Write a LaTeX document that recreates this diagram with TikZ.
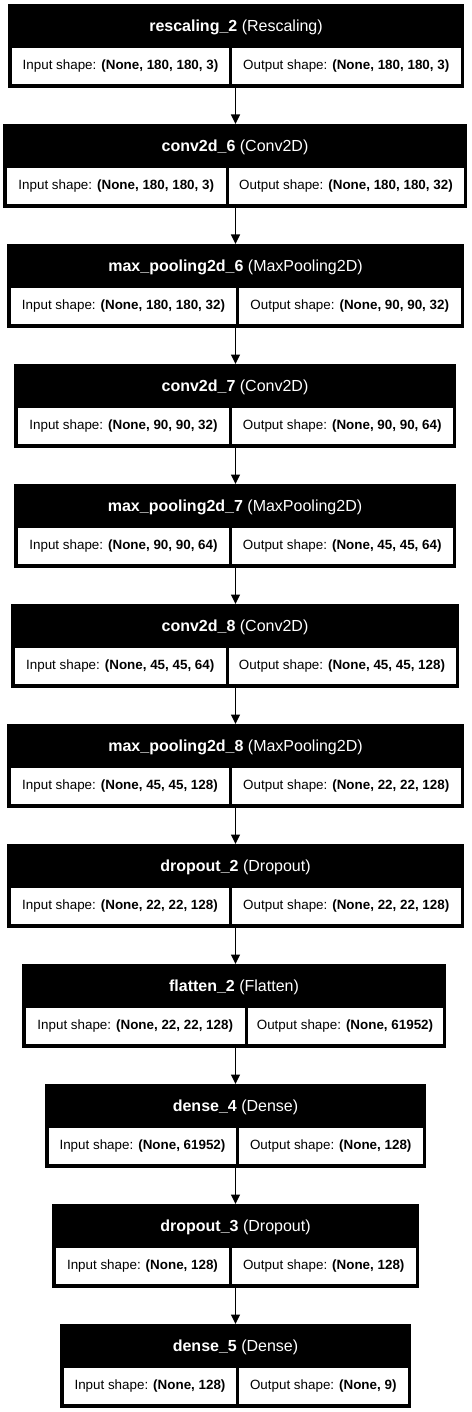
\documentclass[tikz,border=0pt]{standalone}
\usepackage{fontspec}
\setmainfont{Liberation Sans}
\usetikzlibrary{arrows.meta}
\tikzset{
  blk/.style={fill=black, draw=none, minimum height=84pt, inner sep=0pt, outer sep=0pt},
  hdr/.style={text=white, inner sep=0pt, font=\fontsize{16}{18}\selectfont},
  cellbox/.style={fill=white, draw=none, minimum height=36pt, inner sep=0pt, outer sep=0pt, font=\fontsize{13.4}{15}\selectfont},
  arr/.style={line width=1.4pt, -{Triangle[width=9pt,length=9.5pt]}, shorten >=0pt}
}
\newcommand{\layerblock}[9]{%
  \node[blk, minimum width={(#5-#3)*1pt}] (#1) at ({(#3+#5)/2},{#2+42}) {};
  \node[hdr] (#1h) at ({(#3+#5)/2},{#2+23}) {\textbf{#6} (#7)};
  \node[cellbox, minimum width={(#4-1.5-#3-4)*1pt}] (#1i) at ({(#3+4+#4-1.5)/2},{#2+62}) {Input shape: \textbf{#8}};
  \node[cellbox, minimum width={(#5-3.5-#4-1.5)*1pt}] (#1o) at ({(#4+1.5+#5-3.5)/2},{#2+62}) {Output shape: \textbf{#9}};
}
\begin{document}
\begin{tikzpicture}[x=1pt,y=-1pt]
\useasboundingbox (0,0) rectangle (471,1412);
\coordinate (ax) at (235.5,0);
\layerblock{b1}{4}{8}{230.5}{464}{rescaling\_2}{Rescaling}{(None, 180, 180, 3)}{(None, 180, 180, 3)}
\layerblock{b2}{124}{3}{227}{467}{conv2d\_6}{Conv2D}{(None, 180, 180, 3)}{(None, 180, 180, 32)}
\layerblock{b3}{244}{7}{237.5}{464}{max\_pooling2d\_6}{MaxPooling2D}{(None, 180, 180, 32)}{(None, 90, 90, 32)}
\layerblock{b4}{364}{14}{230.5}{456}{conv2d\_7}{Conv2D}{(None, 90, 90, 32)}{(None, 90, 90, 64)}
\layerblock{b5}{484}{14}{230.5}{456}{max\_pooling2d\_7}{MaxPooling2D}{(None, 90, 90, 64)}{(None, 45, 45, 64)}
\layerblock{b6}{604}{11}{227}{459}{conv2d\_8}{Conv2D}{(None, 45, 45, 64)}{(None, 45, 45, 128)}
\layerblock{b7}{724}{7}{230.5}{464}{max\_pooling2d\_8}{MaxPooling2D}{(None, 45, 45, 128)}{(None, 22, 22, 128)}
\layerblock{b8}{844}{7}{230.5}{464}{dropout\_2}{Dropout}{(None, 22, 22, 128)}{(None, 22, 22, 128)}
\layerblock{b9}{964}{22}{246}{446}{flatten\_2}{Flatten}{(None, 22, 22, 128)}{(None, 61952)}
\layerblock{b10}{1084}{45}{237.5}{426}{dense\_4}{Dense}{(None, 61952)}{(None, 128)}
\layerblock{b11}{1204}{52}{230.5}{419}{dropout\_3}{Dropout}{(None, 128)}{(None, 128)}
\layerblock{b12}{1324}{60}{237.5}{411}{dense\_5}{Dense}{(None, 128)}{(None, 9)}
\foreach \a/\b in {b1/b2,b2/b3,b3/b4,b4/b5,b5/b6,b6/b7,b7/b8,b8/b9,b9/b10,b10/b11,b11/b12}
  \draw[arr] (ax |- \a.south) -- (ax |- \b.north);
\end{tikzpicture}
\end{document}
